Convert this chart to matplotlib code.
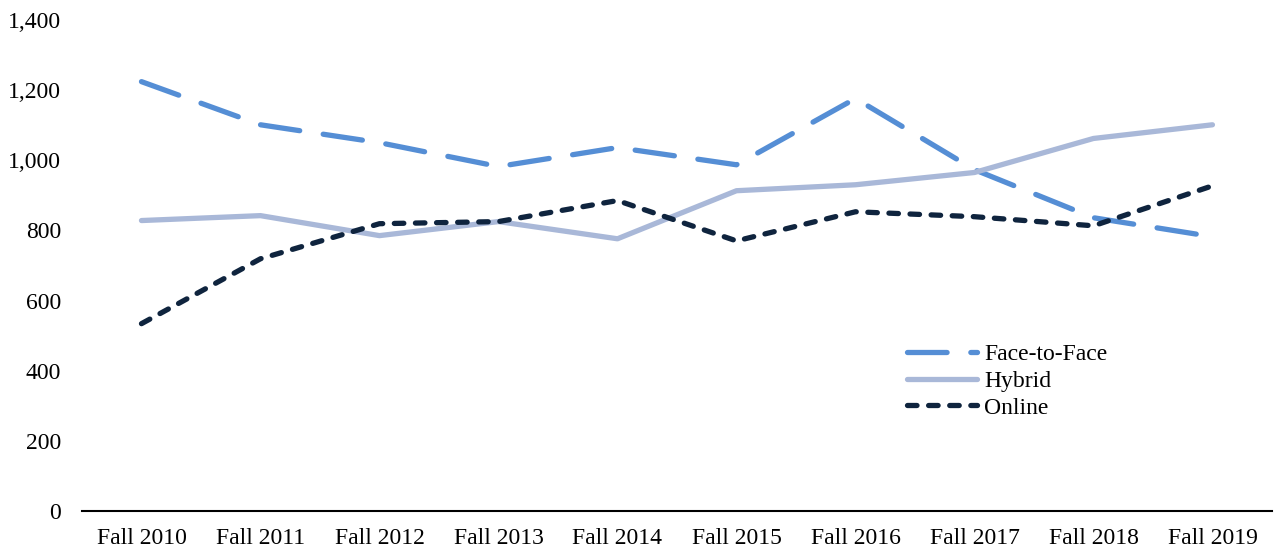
import matplotlib.pyplot as plt
from matplotlib.ticker import FuncFormatter

plt.rcParams['font.family'] = ['Liberation Serif', 'DejaVu Serif']

terms = ['Fall 2010', 'Fall 2011', 'Fall 2012', 'Fall 2013', 'Fall 2014',
         'Fall 2015', 'Fall 2016', 'Fall 2017', 'Fall 2018', 'Fall 2019']
face_to_face = [1224, 1101, 1050, 982, 1036, 987, 1176, 973, 836, 782]
hybrid = [828, 842, 785, 825, 776, 913, 930, 965, 1062, 1101]
online = [534, 719, 819, 825, 885, 770, 853, 839, 813, 927]

fig = plt.figure(figsize=(12.75, 5.53), dpi=100)
ax = fig.add_axes([0.0643, 0.076, 0.9333, 0.888])

x = range(len(terms))
ax.plot(x, face_to_face, color='#558ED5', lw=3.8, dashes=(7.5, 4.5),
        dash_capstyle='round', label='Face-to-Face')
ax.plot(x, hybrid, color='#A9B8D8', lw=3.8, solid_capstyle='round',
        label='Hybrid')
ax.plot(x, online, color='#0F243E', lw=3.8, dashes=(1.8, 2.2),
        dash_capstyle='round', label='Online')

ax.set_xlim(-0.5, len(terms) - 0.5)
ax.set_ylim(0, 1400)
ax.set_yticks(range(0, 1401, 200))
ax.yaxis.set_major_formatter(FuncFormatter(lambda v, p: f'{int(v):,}'))
ax.set_xticks(list(x))
ax.set_xticklabels(terms)
ax.tick_params(axis='both', length=0, labelsize=17, colors='black')
ax.tick_params(axis='y', pad=15)
ax.tick_params(axis='x', pad=12)

for side in ['top', 'right', 'left']:
    ax.spines[side].set_visible(False)
ax.spines['bottom'].set_color('black')
ax.spines['bottom'].set_linewidth(1.5)

ax.legend(loc='upper left', bbox_to_anchor=(0.685, 0.36), frameon=False,
          fontsize=17, handlelength=3.0, handletextpad=0.3,
          labelspacing=0.22, borderaxespad=0)

fig.savefig('out.png', dpi=100)
